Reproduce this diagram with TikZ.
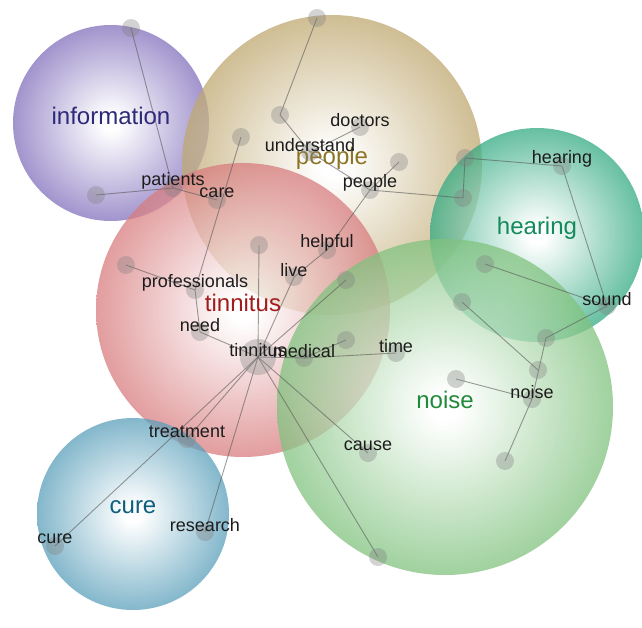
\documentclass[tikz,border=0pt]{standalone}
\usepackage{fontspec}
\setmainfont{Liberation Sans}

\definecolor{ink}{HTML}{1C1C1C}
\definecolor{infofill}{HTML}{8270BC}
\definecolor{infoink}{HTML}{2E2A78}
\definecolor{peoplefill}{HTML}{BFA870}
\definecolor{peopleink}{HTML}{8C7424}
\definecolor{tinfill}{HTML}{D87C7E}
\definecolor{tinink}{HTML}{A11C1C}
\definecolor{hearfill}{HTML}{33AA82}
\definecolor{hearink}{HTML}{138A5C}
\definecolor{noisefill}{HTML}{80C27E}
\definecolor{noiseink}{HTML}{21893A}
\definecolor{curefill}{HTML}{5A9FBA}
\definecolor{cureink}{HTML}{0F5E7E}

% white centre fading out to the topic colour at the rim
% (the middle 50bp square is what covers the node)
\colorlet{bubblecol}{white}
\pgfdeclareradialshading[bubblecol]{bubble}{\pgfpoint{0bp}{0bp}}{%
  color(0bp)=(white); color(2bp)=(white); color(25bp)=(bubblecol); color(50bp)=(bubblecol)}

\pgfdeclarelayer{bubbles}
\pgfdeclarelayer{links}
\pgfsetlayers{bubbles,links,main}

\begin{document}
\begin{tikzpicture}[x=1pt, y=-1pt,
    topic/.style={circle, inner sep=0pt, minimum size=#1, shade, shading=bubble, fill opacity=0.75},
    tint/.code={\colorlet{bubblecol}{#1}},
    topicname/.style={font=\fontsize{24}{26}\selectfont, yshift=7pt},
    dot/.style={circle, inner sep=0pt, minimum size=18pt, fill=black!50, fill opacity=0.35},
    hub/.style={dot, minimum size=36pt},
    word/.style={font=\fontsize{18}{20}\selectfont, text=ink, yshift=7pt},
    link/.style={draw=black!65, line width=0.9pt, draw opacity=0.6} ]
    \useasboundingbox (0,0) rectangle (642,627);

    % Topic bubbles
    \begin{pgfonlayer}{bubbles}
        \node[topic=196pt, tint=infofill] (information) at (111,123) {};
        \node[topic=300pt, tint=peoplefill] (peopleB) at (332,165) {};
        \node[topic=294pt, tint=tinfill] (tinnitusB) at (243,310) {};
        \node[topic=214pt, tint=hearfill] (hearingB) at (537,235) {};
        \node[topic=336pt, tint=noisefill] (noiseB) at (445,407) {};
        \node[topic=192pt, tint=curefill] (cureB) at (133,514) {};
    \end{pgfonlayer}
    \node[topicname, text=infoink] (information-t) at (information) {information};
    \node[topicname, text=peopleink] (people-t) at (peopleB) {people};
    \node[topicname, text=tinink] (tinnitus-t) at (tinnitusB) {tinnitus};
    \node[topicname, text=hearink] (hearing-t) at (hearingB) {hearing};
    \node[topicname, text=noiseink] (noise-t) at (noiseB) {noise};
    \node[topicname, text=cureink] (cure-t) at (cureB) {cure};

    % Term dots
    \node[dot] (i1) at (131,28) {};
    \node[dot] (i2) at (96,195) {};
    \node[dot] (p1) at (317,18) {};
    \node[dot] (p2) at (280,115) {};
    \node[dot] (p3) at (241,137) {};
    \node[dot] (p4) at (399,162) {};
    \node[dot] (t1) at (126,265) {};
    \node[dot] (t2) at (259,245) {};
    \node[dot] (t3) at (346,280) {};
    \node[dot] (t4) at (346,340) {};
    \node[dot] (h1) at (465,158) {};
    \node[dot] (h2) at (463,198) {};
    \node[dot] (h3) at (485,264) {};
    \node[dot] (h4) at (546,338) {};
    \node[dot] (h5) at (462,302) {};
    \node[dot] (n1) at (538,370) {};
    \node[dot] (n2) at (456,379) {};
    \node[dot] (n3) at (505,461) {};
    \node[dot] (n4) at (378,557) {};

    \node[dot] (patients) at (173,188) {};
    \node[dot] (care) at (217,200) {};
    \node[dot] (professionals) at (195,290) {};
    \node[dot] (need) at (200,332) {};
    \node[hub] (tinnitus) at (258,357) {};
    \node[dot] (medical) at (304,358) {};
    \node[dot] (time) at (396,353) {};
    \node[dot] (live) at (294,277) {};
    \node[dot] (helpful) at (327,250) {};
    \node[dot] (people) at (370,190) {};
    \node[dot] (understand) at (310,152) {};
    \node[dot] (doctors) at (360,127) {};
    \node[dot] (hearing) at (562,166) {};
    \node[dot] (sound) at (607,306) {};
    \node[dot] (noise) at (532,399) {};
    \node[dot] (cause) at (368,453) {};
    \node[dot] (treatment) at (187,439) {};
    \node[dot] (cure) at (55,546) {};
    \node[dot] (research) at (205,532) {};

    % Term labels
    \node[word] (patients-w) at (patients) {patients};
    \node[word] (care-w) at (care) {care};
    \node[word] (professionals-w) at (professionals) {professionals};
    \node[word] (need-w) at (need) {need};
    \node[word] (tinnitus-w) at (tinnitus) {tinnitus};
    \node[word] (medical-w) at (medical) {medical};
    \node[word] (time-w) at (time) {time};
    \node[word] (live-w) at (live) {live};
    \node[word] (helpful-w) at (helpful) {helpful};
    \node[word] (people-w) at (people) {people};
    \node[word] (understand-w) at (understand) {understand};
    \node[word] (doctors-w) at (doctors) {doctors};
    \node[word] (hearing-w) at (hearing) {hearing};
    \node[word] (sound-w) at (sound) {sound};
    \node[word] (noise-w) at (noise) {noise};
    \node[word] (cause-w) at (cause) {cause};
    \node[word] (treatment-w) at (treatment) {treatment};
    \node[word] (cure-w) at (cure) {cure};
    \node[word] (research-w) at (research) {research};

    % Edges
    \begin{pgfonlayer}{links}
        \draw[link] (i1.center) -- (patients.center);
        \draw[link] (i2.center) -- (patients.center);
        \draw[link] (patients.center) -- (care.center);
        \draw[link] (p3.center) -- (professionals.center);
        \draw[link] (t1.center) -- (professionals.center);
        \draw[link] (professionals.center) -- (need.center);
        \draw[link] (need.center) -- (tinnitus.center);
        \draw[link] (tinnitus.center) -- (t2.center);
        \draw[link] (tinnitus.center) -- (live.center);
        \draw[link] (live.center) -- (helpful.center);
        \draw[link] (helpful.center) -- (people.center);
        \draw[link] (people.center) -- (p4.center);
        \draw[link] (people.center) -- (h2.center);
        \draw[link] (h2.center) -- (h1.center);
        \draw[link] (h1.center) -- (hearing.center);
        \draw[link] (hearing.center) -- (sound.center);
        \draw[link] (h3.center) -- (sound.center);
        \draw[link] (sound.center) -- (h4.center);
        \draw[link] (h4.center) -- (noise.center);
        \draw[link] (h5.center) -- (n1.center);
        \draw[link] (n2.center) -- (noise.center);
        \draw[link] (noise.center) -- (n3.center);
        \draw[link] (tinnitus.center) -- (t3.center);
        \draw[link] (tinnitus.center) -- (medical.center);
        \draw[link] (medical.center) -- (t4.center);
        \draw[link] (medical.center) -- (time.center);
        \draw[link] (tinnitus.center) -- (cause.center);
        \draw[link] (tinnitus.center) -- (n4.center);
        \draw[link] (tinnitus.center) -- (treatment.center);
        \draw[link] (tinnitus.center) -- (cure.center);
        \draw[link] (tinnitus.center) -- (research.center);
        \draw[link] (p1.center) -- (p2.center);
        \draw[link] (p2.center) -- (understand.center);
        \draw[link] (understand.center) -- (doctors.center);
        \draw[link] (understand.center) -- (people.center);
    \end{pgfonlayer}
\end{tikzpicture}
\end{document}
